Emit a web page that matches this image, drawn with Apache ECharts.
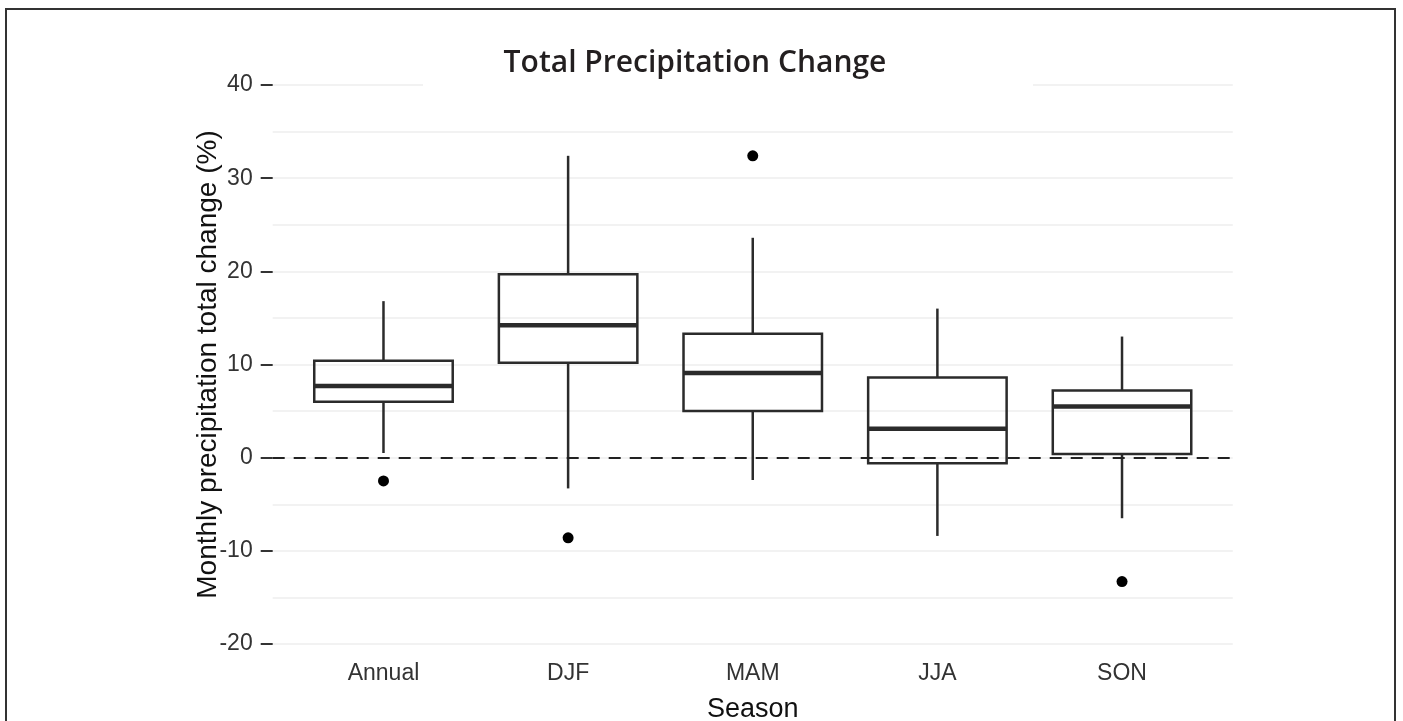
<!DOCTYPE html>
<html>
<head>
<meta charset="utf-8">
<title>Total Precipitation Change</title>
<script src="https://cdn.jsdelivr.net/npm/echarts@6/dist/echarts.min.js"></script>
<style>
  html, body { margin: 0; padding: 0; background: #fff; }
  #chart { width: 1403px; height: 721px; }
</style>
</head>
<body>
<div id="chart"></div>
<script>
// categories and five-number summaries
const seasons = ["Annual", "DJF", "MAM", "JJA", "SON"];
const whiskerLow = [0.5, -3.3, -2.4, -8.4, -6.5];
const lowerQuartile = [6.0, 10.2, 5.0, -0.6, 0.4];
const median = [7.7, 14.2, 9.1, 3.1, 5.5];
const upperQuartile = [10.4, 19.7, 13.3, 8.6, 7.2];
const whiskerHigh = [16.8, 32.4, 23.6, 16.0, 13.0];
// outliers: [season index, value]
const outliers = [[0, -2.5], [1, -8.6], [2, 32.4], [4, -13.3]];
const yTicks = [-20, -10, 0, 10, 20, 30, 40];

const BOX_WIDTH = 0.75; // in category units

const boxData = seasons.map((s, i) => [
  i + 1, whiskerLow[i], lowerQuartile[i], median[i], upperQuartile[i], whiskerHigh[i]
]);
const outlierData = outliers.map(o => [o[0] + 1, o[1]]);

const chart = echarts.init(document.getElementById("chart"));

const option = {
  backgroundColor: "#fff",
  animation: false,
  title: {
    text: "Total Precipitation Change",
    left: 690,
    textAlign: "center",
    top: 43,
    z: 10,
    textStyle: {
      fontFamily: "Open Sans",
      fontWeight: 600,
      fontSize: 30,
      color: "#231f20",
    },
  },
  graphic: [
    // white patch behind the title covering the top grid line
    {
      type: "rect",
      z: 1,
      shape: { x: 423, y: 74, width: 610, height: 22 },
      style: { fill: "#fff" },
    },
    // outer frame
    {
      type: "rect",
      z: 60,
      shape: { x: 6, y: 9, width: 1389, height: 730 },
      style: { fill: null, stroke: "#333", lineWidth: 2 },
    },
  ],
  grid: {
    left: 272.7,
    right: 170.2,
    top: 85,
    bottom: 77,
    containLabel: false,
    outerBoundsMode: "none",
  },
  xAxis: {
    type: "value",
    min: 0.4,
    max: 5.6,
    name: "Season",
    nameLocation: "middle",
    nameGap: 52,
    nameMoveOverlap: false,
    nameTextStyle: {
      fontFamily: "Liberation Sans",
      fontSize: 27,
      color: "#111",
    },
    axisLine: { show: false },
    axisTick: { show: false },
    splitLine: { show: false },
    axisLabel: {
      customValues: [1, 2, 3, 4, 5],
      formatter: (v) => seasons[Math.round(v) - 1] || "",
      margin: 18,
      fontFamily: "Liberation Sans",
      fontSize: 23,
      color: "#333",
    },
  },
  yAxis: {
    type: "value",
    min: yTicks[0],
    max: yTicks[yTicks.length - 1],
    interval: 10,
    name: "Monthly precipitation total change (%)",
    nameLocation: "middle",
    nameRotate: 90,
    nameGap: 50,
    nameMoveOverlap: false,
    nameTextStyle: {
      fontFamily: "Liberation Sans",
      fontSize: 28,
      color: "#111",
    },
    axisLine: { show: false },
    axisTick: {
      show: true,
      length: 12,
      lineStyle: { color: "#333", width: 2 },
    },
    axisLabel: {
      margin: 20,
      fontFamily: "Liberation Sans",
      fontSize: 23,
      color: "#333",
    },
    splitLine: { show: true, lineStyle: { color: "#eeeeee", width: 1.5 } },
    minorTick: { show: false, splitNumber: 2 },
    minorSplitLine: { show: true, lineStyle: { color: "#eeeeee", width: 1.5 } },
  },
  series: [
    {
      // box and whiskers, ggplot style (no whisker caps, thick median)
      type: "custom",
      data: boxData,
      z: 3,
      encode: { x: 0, y: [1, 2, 3, 4, 5] },
      renderItem(params, api) {
        const x = api.value(0);
        const lo = api.coord([x, api.value(1)]);
        const q1 = api.coord([x, api.value(2)]);
        const md = api.coord([x, api.value(3)]);
        const q3 = api.coord([x, api.value(4)]);
        const hi = api.coord([x, api.value(5)]);
        const w = api.size([BOX_WIDTH, 0])[0];
        const left = q1[0] - w / 2;
        const stroke = { stroke: "#2b2b2b", lineWidth: 2.5 };
        return {
          type: "group",
          children: [
            {
              type: "line",
              shape: { x1: hi[0], y1: hi[1], x2: q3[0], y2: q3[1] },
              style: stroke,
            },
            {
              type: "line",
              shape: { x1: q1[0], y1: q1[1], x2: lo[0], y2: lo[1] },
              style: stroke,
            },
            {
              type: "rect",
              shape: { x: left, y: q3[1], width: w, height: q1[1] - q3[1] },
              style: { fill: "rgba(255,255,255,0)", stroke: "#2b2b2b", lineWidth: 2.5 },
            },
            {
              type: "line",
              shape: { x1: left, y1: md[1], x2: left + w, y2: md[1] },
              style: { stroke: "#2b2b2b", lineWidth: 4.5 },
            },
          ],
        };
      },
    },
    {
      type: "scatter",
      data: outlierData,
      symbol: "circle",
      symbolSize: 11,
      z: 4,
      itemStyle: { color: "#000", opacity: 1 },
      markLine: {
        silent: true,
        symbol: "none",
        label: { show: false },
        lineStyle: { color: "#222", width: 2, type: [12, 9] },
        data: [{ yAxis: 0 }],
      },
    },
  ],
};

chart.setOption(option);
</script>
</body>
</html>
